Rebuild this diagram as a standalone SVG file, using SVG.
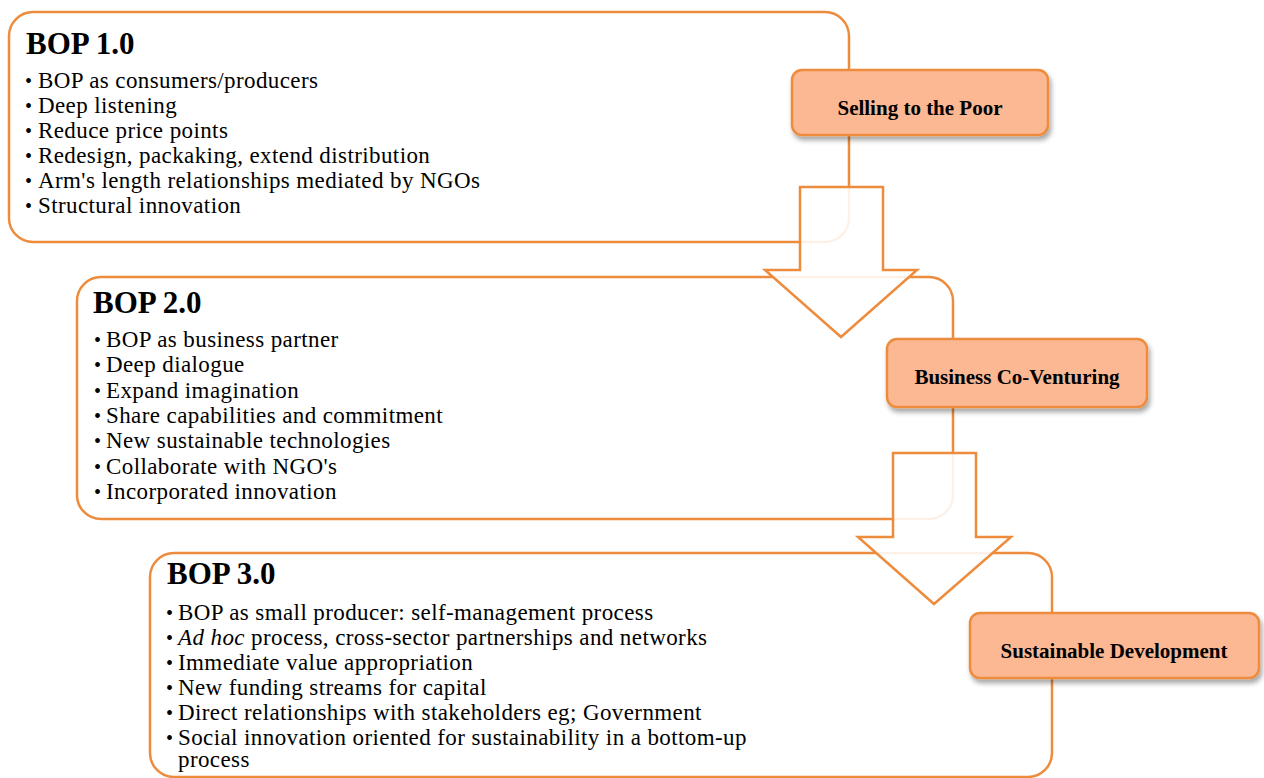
<svg xmlns="http://www.w3.org/2000/svg" width="1264" height="778" viewBox="0 0 1264 778">
<defs>
<filter id="sh" x="-10%" y="-20%" width="130%" height="160%">
<feDropShadow dx="2" dy="4" stdDeviation="2.5" flood-color="#000" flood-opacity="0.35"/>
</filter>
<style>
.box{fill:#fff;stroke:#EE8C3E;stroke-width:2.5}
.lbl{fill:#FCB793;stroke:#EE8C3E;stroke-width:2.5;filter:url(#sh)}
.title{font-family:"Liberation Serif","Times New Roman",serif;font-weight:bold;font-size:31px;fill:#000}
.item{font-family:"Liberation Serif","Times New Roman",serif;font-size:23px;letter-spacing:0.4px;fill:#000}
.bul{font-family:"Liberation Serif","Times New Roman",serif;font-size:20px;fill:#000}
.lt{font-family:"Liberation Serif","Times New Roman",serif;font-weight:bold;font-size:21px;fill:#000;text-anchor:middle}
.arr{fill:#fff;fill-opacity:0.88;stroke:#EE8C3E;stroke-width:2.5}
</style>
</defs>
<rect width="1264" height="778" fill="#fff"/>

<g id="bop1">
<rect class="box" x="9" y="12" width="840" height="230" rx="24"/>
<text class="title" x="26" y="54">BOP 1.0</text>
<g class="bul"><text x="25" y="88">•</text><text x="25" y="113">•</text><text x="25" y="138">•</text><text x="25" y="163">•</text><text x="25" y="188">•</text><text x="25" y="213">•</text></g>
<g class="item">
<text x="38" y="88">BOP as consumers/producers</text>
<text x="38" y="113">Deep listening</text>
<text x="38" y="138">Reduce price points</text>
<text x="38" y="163">Redesign, packaking, extend distribution</text>
<text x="38" y="188">Arm's length relationships mediated by NGOs</text>
<text x="38" y="213">Structural innovation</text>
</g>
</g>

<g id="bop2">
<rect class="box" x="77" y="277" width="876" height="242" rx="24"/>
<text class="title" x="93" y="313">BOP 2.0</text>
<g class="bul"><text x="94" y="347">•</text><text x="94" y="372">•</text><text x="94" y="398">•</text><text x="94" y="423">•</text><text x="94" y="448">•</text><text x="94" y="474">•</text><text x="94" y="499">•</text></g>
<g class="item">
<text x="106" y="347">BOP as business partner</text>
<text x="106" y="372">Deep dialogue</text>
<text x="106" y="398">Expand imagination</text>
<text x="106" y="423">Share capabilities and commitment</text>
<text x="106" y="448">New sustainable technologies</text>
<text x="106" y="474">Collaborate with NGO's</text>
<text x="106" y="499">Incorporated innovation</text>
</g>
</g>

<g id="bop3">
<rect class="box" x="150" y="553" width="902" height="224" rx="24"/>
<text class="title" x="167" y="584">BOP 3.0</text>
<g class="bul"><text x="166" y="620">•</text><text x="166" y="645">•</text><text x="166" y="670">•</text><text x="166" y="695">•</text><text x="166" y="720">•</text><text x="166" y="745">•</text></g>
<g class="item">
<text x="178" y="620">BOP as small producer: self-management process</text>
<text x="178" y="645"><tspan font-style="italic">Ad hoc</tspan> process, cross-sector partnerships and networks</text>
<text x="178" y="670">Immediate value appropriation</text>
<text x="178" y="695">New funding streams for capital</text>
<text x="178" y="720">Direct relationships with stakeholders eg; Government</text>
<text x="178" y="745">Social innovation oriented for sustainability in a bottom-up</text>
<text x="178" y="767">process</text>
</g>
</g>

<g id="label1">
<rect class="lbl" x="792" y="70" width="256" height="65" rx="10"/>
<text class="lt" x="920" y="115">Selling to the Poor</text>
</g>
<g id="label2">
<rect class="lbl" x="887" y="339" width="260" height="68" rx="10"/>
<text class="lt" x="1017" y="384">Business Co-Venturing</text>
</g>
<g id="label3">
<rect class="lbl" x="970" y="613" width="289" height="65" rx="10"/>
<text class="lt" x="1114" y="658">Sustainable Development</text>
</g>

<g id="connectors">
<path class="arr" d="M800,187 H883 V270 H917 L841,337 L765,270 H800 Z"/>
<path class="arr" d="M893,453 H976 V537 H1011 L934,604 L858,537 H893 Z"/>
</g>
</svg>
